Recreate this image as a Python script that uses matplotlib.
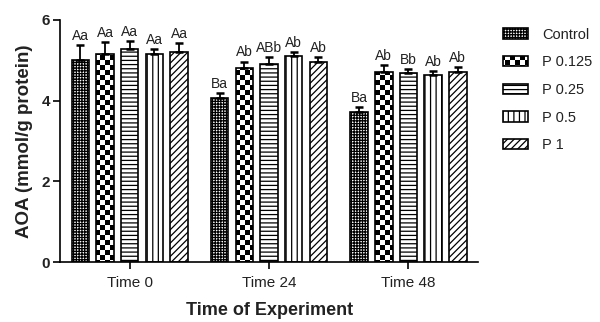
import warnings
import numpy as np
import matplotlib
matplotlib.use('Agg')
import matplotlib.pyplot as plt
import matplotlib.hatch as mhatch
from matplotlib.path import Path

warnings.filterwarnings('ignore')

groups = ['Time 0', 'Time 24', 'Time 48']
treatments = ['Control', 'P 0.125', 'P 0.25', 'P 0.5', 'P 1']

control = [5.01, 4.07, 3.71]
p0125 = [5.15, 4.82, 4.72]
p025 = [5.28, 4.92, 4.68]
p05 = [5.15, 5.11, 4.63]
p1 = [5.20, 4.97, 4.72]

control_err = [0.37, 0.13, 0.14]
p0125_err = [0.31, 0.15, 0.17]
p025_err = [0.20, 0.15, 0.10]
p05_err = [0.13, 0.10, 0.10]
p1_err = [0.23, 0.12, 0.11]

control_lbl = ['Aa', 'Ba', 'Ba']
p0125_lbl = ['Aa', 'Ab', 'Ab']
p025_lbl = ['Aa', 'ABb', 'Bb']
p05_lbl = ['Aa', 'Ab', 'Ab']
p1_lbl = ['Aa', 'Ab', 'Ab']

values = [control, p0125, p025, p05, p1]
errors = [control_err, p0125_err, p025_err, p05_err, p1_err]
letters = [control_lbl, p0125_lbl, p025_lbl, p05_lbl, p1_lbl]


# checkerboard hatch ('c'), squares in a 20x20 grid per hatch unit
class CheckerHatch(mhatch.HatchPatternBase):
    def __init__(self, hatch, density):
        self.n = 20 if 'c' in hatch else 0
        self.num_vertices = (self.n * self.n // 2) * 5

    def set_vertices_and_codes(self, vertices, codes):
        s = 1.0 / self.n
        d = plt.rcParams['hatch.linewidth'] / 72.0 / 2
        k = 0
        for i in range(self.n):
            for j in range(self.n):
                if (i + j) % 2 == 0:
                    x0, y0 = i * s + d, j * s + d
                    x1, y1 = (i + 1) * s - d, (j + 1) * s - d
                    vertices[k:k + 5] = [(x0, y0), (x1, y0), (x1, y1), (x0, y1), (x0, y0)]
                    codes[k:k + 5] = [Path.MOVETO, Path.LINETO, Path.LINETO,
                                      Path.LINETO, Path.CLOSEPOLY]
                    k += 5


mhatch._hatch_types.append(CheckerHatch)

plt.rcParams['font.family'] = ['Liberation Sans', 'DejaVu Sans']
plt.rcParams['hatch.linewidth'] = 0.9
txt = '#222222'

hatches = ['++++++', 'c', '----', '|||', '/////']

fig = plt.figure(figsize=(6, 3.22), dpi=100)
ax = fig.add_axes([0.1, 0.186, 0.697, 0.752])

x = np.arange(len(groups))
step = 0.177
width = 0.125
for k in range(len(treatments)):
    pos = x + (k - 2) * step
    ax.bar(pos, values[k], width, color='white', edgecolor='black',
           linewidth=1.2, hatch=hatches[k], label=treatments[k], zorder=2)
    ax.errorbar(pos, values[k], yerr=[np.zeros(3), errors[k]], fmt='none',
                ecolor='black', elinewidth=1.3, capsize=3, capthick=1.8, zorder=3)
    for i in range(len(groups)):
        ax.annotate(letters[k][i], (pos[i], values[k][i] + errors[k][i]),
                    xytext=(0, 1.5), textcoords='offset points',
                    ha='center', va='bottom', fontsize=10, color=txt)

ax.set_xlim(-0.5, 2.5)
ax.set_ylim(0, 6)
ax.set_yticks([0, 2, 4, 6])
ax.set_xticks(x)
ax.set_xticklabels(groups, fontsize=11, color=txt)
for t in ax.get_yticklabels():
    t.set_fontweight('bold')
    t.set_fontsize(11)
    t.set_color(txt)
ax.spines['top'].set_visible(False)
ax.spines['right'].set_visible(False)
ax.spines['left'].set_linewidth(1.2)
ax.spines['bottom'].set_linewidth(1.2)
ax.tick_params(axis='both', length=5, width=1.2, pad=2)
ax.tick_params(axis='x', pad=5)

ax.set_xlabel('Time of Experiment', fontsize=13, fontweight='bold', color=txt, labelpad=9)
ax.set_ylabel('AOA (mmol/g protein)', fontsize=13.5, fontweight='bold', color=txt, labelpad=6)

ax.legend(loc='upper left', bbox_to_anchor=(0.826, 0.937), bbox_transform=fig.transFigure,
          frameon=False, fontsize=10.5, handlelength=1.7, handleheight=0.7,
          handletextpad=1.0, labelspacing=0.94, borderpad=0, labelcolor=txt)

fig.savefig('out.png', dpi=100)
